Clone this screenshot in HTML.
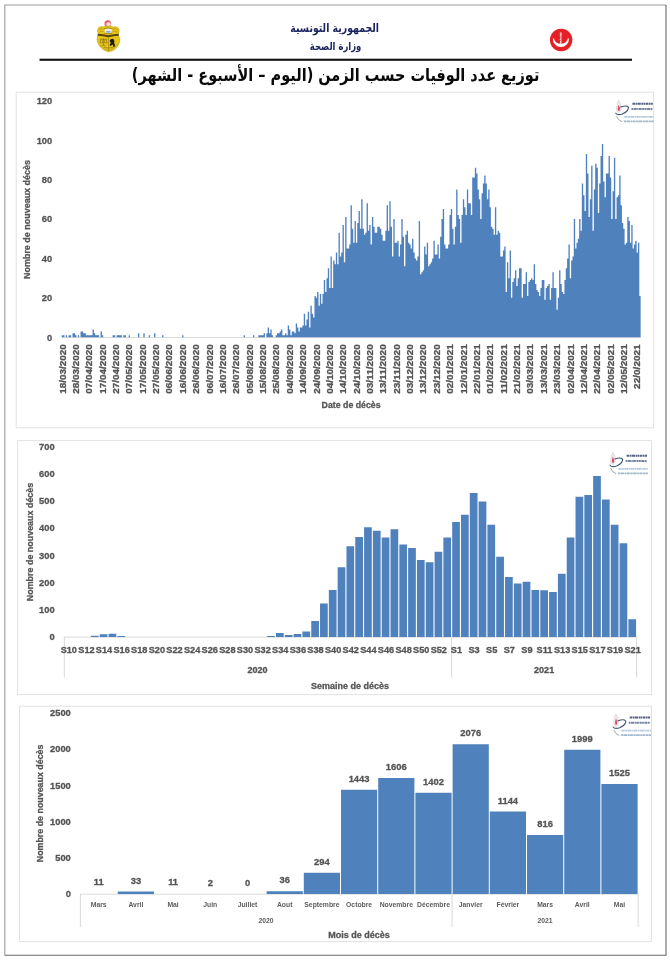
<!DOCTYPE html>
<html lang="fr">
<head>
<meta charset="utf-8">
<title>Répartition des décès selon le temps</title>
<style>
html,body{margin:0;padding:0;background:#fff}
body{width:670px;height:960px;overflow:hidden;font-family:"Liberation Sans",sans-serif}
svg{display:block;will-change:transform}
text{font-family:"Liberation Sans",sans-serif;font-weight:700;fill:#555;stroke:#555;stroke-width:.3px;stroke-linejoin:round}
text.s{stroke:none;fill:#5c5c5c}
text.ar{font-family:"DejaVu Sans",sans-serif;font-weight:700;stroke:none}
</style>
</head>
<body>
<svg width="670" height="960" viewBox="0 0 670 960">
<rect x="0" y="0" width="670" height="960" fill="#fff"/>
<g fill="none" stroke-width="1.1">
<path d="M4.8 955.3V5H666" stroke="#9c9c9c"/>
<path d="M4.8 955.3H666V5" stroke="#6a6a6a"/>
</g>
<g transform="translate(85 10) scale(0.07463)">
<circle cx="305" cy="185" r="46" fill="#ec7a80"/>
<circle cx="316" cy="190" r="27" fill="#fbdcdd"/>
<path d="M268 170Q290 140 330 150" stroke="#e04b55" stroke-width="12" fill="none"/>
<path d="M175 245Q200 212 250 226L285 214Q310 226 335 214L380 228Q430 212 455 250Q466 290 446 320L451 346Q476 380 463 432Q445 502 380 541Q330 566 298 556Q214 530 174 450Q149 390 169 346L178 320Q157 285 175 245Z" fill="#e6c51b" stroke="#b89d17" stroke-width="7"/>
<path d="M262 262Q310 240 360 262L352 305Q310 318 268 305Z" fill="#eef1f6"/>
<path d="M280 285Q310 270 345 285L340 300Q310 308 284 300Z" fill="#8fa3c4"/>
<path d="M172 318Q240 322 312 338Q385 322 452 318L452 344Q385 348 312 364Q240 348 172 344Z" fill="#5a4312"/>
<path d="M316 362V545" stroke="#9b7f12" stroke-width="9" fill="none"/>
<path d="M200 392H296M212 392L200 440H238L226 392M270 392L258 440H296L284 392M248 380V470M222 476H276" stroke="#8d7410" stroke-width="9" fill="none"/>
<path d="M345 392Q372 378 388 398Q402 420 388 440Q410 470 398 498L378 496Q384 472 366 462Q352 480 338 482L332 462Q346 452 346 436Q330 430 332 410Z" fill="#1d1a10"/>
<path d="M250 500Q312 520 376 500" stroke="#9b7f12" stroke-width="10" fill="none"/>
<path d="M196 462Q246 524 312 544Q378 524 430 462" stroke="#b2961a" stroke-width="8" fill="none"/>
<path d="M252 250Q310 230 368 250M258 312Q310 326 362 312" stroke="#7d6912" stroke-width="8" fill="none"/>
<path d="M190 262Q215 246 245 256M372 256Q405 246 438 266M196 292Q220 282 250 290M370 290Q405 282 434 294" stroke="#b3961a" stroke-width="9" fill="none"/>
</g>
<g transform="translate(540 18) scale(0.06566)">
<circle cx="322" cy="335" r="171" fill="#e41f26"/>
<path d="M195.2 312A123 123 0 1 0 440.8 312L424.1 312A110 110 0 0 1 211.9 312Z" fill="#fff"/>
<path d="M316 232V398" stroke="#fbd2d3" stroke-width="22" fill="none"/>
<ellipse cx="316" cy="238" rx="17" ry="20" fill="#f6a9ab"/>
<path d="M288 272Q345 286 300 318Q282 338 340 352" stroke="#ee6a6e" stroke-width="12" fill="none"/>
</g>
<text class="ar" x="334.7" y="31.9" font-size="11.5" text-anchor="middle" direction="rtl" textLength="88.7" lengthAdjust="spacingAndGlyphs" style="fill:#1b2460">الجمهورية التونسية</text>
<text class="ar" x="335.6" y="50.3" font-size="11" text-anchor="middle" direction="rtl" textLength="51.6" lengthAdjust="spacingAndGlyphs" style="fill:#1b2460">وزارة الصحة</text>
<rect x="39.5" y="58.7" width="592.5" height="2.1" fill="#111"/>
<g>
<text class="ar" x="335.6" y="81" font-size="17.5" text-anchor="middle" direction="rtl" textLength="407.5" lengthAdjust="spacingAndGlyphs" style="fill:#0a0a0a">توزيع عدد الوفيات حسب الزمن (اليوم – الأسبوع - الشهر)</text>
</g>
<rect x="16.2" y="92.2" width="637.4" height="335.6" fill="#fff" stroke="#e2e2e2" stroke-width="1"/>
<g transform="translate(615.2 99.6)">
<path d="M3.4 0.6Q6.4 4.5 5.8 9.6Q5.2 13 3.4 13Q1 12.6 1.3 8.6Q1.6 4.2 3.4 0.6Z" fill="#f6e9ec" stroke="#c9ccd3" stroke-width="0.6"/>
<path d="M3.5 5.2Q5.1 8.4 4.5 10.6Q3.6 12 2.7 10.6Q2.1 8.4 3.5 5.2Z" fill="#e0405a"/>
<path d="M5.5 7.4Q11.5 5.2 13.2 7.6Q13.6 11.4 7.2 14.4Q2.2 16 0.6 13.6" fill="none" stroke="#3f5873" stroke-width="1.15" stroke-linecap="round"/>
<path d="M1.4 16.8Q2.4 20.6 6.4 22" fill="none" stroke="#7d93aa" stroke-width="0.8" stroke-linecap="round"/>
<path d="M17.2 4.1H37.6" fill="none" stroke="#2b3b63" stroke-width="2.1" stroke-dasharray="2.6 0.5 1.5 0.4 3.4 0.6 2 0.4 1.2 0.5" opacity="0.8"/>
<path d="M16.2 9.4H37.6" fill="none" stroke="#3a4f78" stroke-width="2" stroke-dasharray="1.8 0.5 3 0.5 1.4 0.4 2.6 0.6 2.2 0.4" opacity="0.7"/>
<path d="M9 17.2H38.5" fill="none" stroke="#9ab8d6" stroke-width="1.7" stroke-dasharray="3.2 0.5 2 0.4 4 0.5 1.4 0.4" opacity="0.75"/>
<path d="M8.5 21.7H38.5" fill="none" stroke="#8aa6c2" stroke-width="1.7" stroke-dasharray="2.4 0.4 3.6 0.5 1.8 0.4 2.8 0.5" opacity="0.8"/>
</g>
<path d="M61.8 337.6H640.63" fill="none" stroke="#d9d9d9" stroke-width="1"/>
<path d="M61.8 337.3V335.33H63.14V335.33H64.47V337.3H65.81V335.33H67.15V337.3H68.48V335.33H69.82V335.33H71.16V337.3H72.49V333.36H73.83V333.36H75.17V335.33H76.5V337.3H77.84V335.33H79.18V337.3H80.52V331.38H81.85V331.38H83.19V333.36H84.53V333.36H85.86V335.33H87.2V335.33H88.54V335.33H89.87V335.33H91.21V335.33H92.55V329.41H93.88V333.36H95.22V335.33H96.56V335.33H97.89V335.33H99.23V337.3H100.57V331.38H101.9V335.33H103.24V337.3H104.58V337.3H105.91V337.3H107.25V337.3H108.59V337.3H109.92V337.3H111.26V337.3H112.6V335.33H113.94V335.33H115.27V337.3H116.61V335.33H117.95V335.33H119.28V335.33H120.62V335.33H121.96V337.3H123.29V335.33H124.63V335.33H125.97V337.3H127.3V337.3H128.64V335.33H129.98V337.3H131.31V337.3H132.65V337.3H133.99V337.3H135.32V337.3H136.66V337.3H138V333.36H139.33V337.3H140.67V337.3H142.01V337.3H143.34V333.36H144.68V337.3H146.02V337.3H147.36V337.3H148.69V335.33H150.03V337.3H151.37V337.3H152.7V337.3H154.04V333.36H155.38V337.3H156.71V337.3H158.05V337.3H159.39V337.3H160.72V337.3H162.06V335.33H163.4V337.3H164.73V337.3H166.07V337.3H167.41V337.3H168.74V337.3H170.08V337.3H171.42V337.3H172.75V337.3H174.09V337.3H175.43V337.3H176.76V337.3H178.1V337.3H179.44V337.3H180.78V337.3H182.11V335.33H183.45V337.3H184.79V337.3H186.12V337.3H187.46V337.3H188.8V337.3H190.13V337.3H191.47V337.3H192.81V337.3H194.14V337.3H195.48V337.3H196.82V337.3H198.15V337.3H199.49V337.3H200.83V337.3H202.16V337.3H203.5V337.3H204.84V337.3H206.17V337.3H207.51V337.3H208.85V337.3H210.18V337.3H211.52V337.3H212.86V337.3H214.2V337.3H215.53V337.3H216.87V337.3H218.21V337.3H219.54V337.3H220.88V337.3H222.22V337.3H223.55V337.3H224.89V337.3H226.23V337.3H227.56V337.3H228.9V337.3H230.24V337.3H231.57V337.3H232.91V337.3H234.25V337.3H235.58V337.3H236.92V337.3H238.26V337.3H239.59V337.3H240.93V337.3H242.27V337.3H243.6V335.33H244.94V337.3H246.28V337.3H247.62V337.3H248.95V337.3H250.29V337.3H251.63V337.3H252.96V335.33H254.3V337.3H255.64V337.3H256.97V337.3H258.31V335.33H259.65V335.33H260.98V335.33H262.32V335.33H263.66V333.36H264.99V337.3H266.33V333.36H267.67V327.44H269V333.36H270.34V329.41H271.68V335.33H273.01V337.3H274.35V337.3H275.69V335.33H277.02V333.36H278.36V333.36H279.7V331.38H281.04V329.41H282.37V335.33H283.71V335.33H285.05V333.36H286.38V335.33H287.72V325.47H289.06V329.41H290.39V335.33H291.73V331.38H293.07V331.38H294.4V333.36H295.74V323.5H297.08V327.44H298.41V331.38H299.75V327.44H301.09V327.44H302.42V325.47H303.76V313.64H305.1V325.47H306.43V319.55H307.77V311.66H309.11V327.44H310.44V305.75H311.78V313.64H313.12V317.58H314.46V295.89H315.79V297.86H317.13V291.94H318.47V305.75H319.8V293.92H321.14V303.78H322.48V293.92H323.81V280.11H325.15V291.94H326.49V278.14H327.82V268.28H329.16V288H330.5V256.45H331.83V288H333.17V260.39H334.51V264.34H335.84V252.5H337.18V264.34H338.52V232.78H339.85V256.45H341.19V252.5H342.53V224.9H343.86V262.36H345.2V217.01H346.54V248.56H347.88V248.56H349.21V244.62H350.55V205.18H351.89V228.84H353.22V242.64H354.56V220.95H355.9V242.64H357.23V222.92H358.57V211.09H359.91V228.84H361.24V199.26H362.58V228.84H363.92V234.76H365.25V232.78H366.59V203.2H367.93V230.81H369.26V224.9H370.6V244.62H371.94V217.01H373.27V226.87H374.61V232.78H375.95V232.78H377.28V226.87H378.62V226.87H379.96V228.84H381.3V234.76H382.63V240.67H383.97V240.67H385.31V230.81H386.64V205.18H387.98V230.81H389.32V201.23H390.65V226.87H391.99V256.45H393.33V218.98H394.66V242.64H396V242.64H397.34V240.67H398.67V256.45H400.01V244.62H401.35V218.98H402.68V236.73H404.02V266.31H405.36V234.76H406.69V230.81H408.03V242.64H409.37V244.62H410.7V248.56H412.04V238.7H413.38V252.5H414.72V258.42H416.05V260.39H417.39V256.45H418.73V220.95H420.06V274.2H421.4V272.22H422.74V270.25H424.07V246.59H425.41V254.48H426.75V242.64H428.08V266.31H429.42V264.34H430.76V262.36H432.09V258.42H433.43V240.67H434.77V254.48H436.1V254.48H437.44V244.62H438.78V258.42H440.11V236.73H441.45V218.98H442.79V209.12H444.12V244.62H445.46V248.56H446.8V248.56H448.14V244.62H449.47V215.04H450.81V209.12H452.15V228.84H453.48V244.62H454.82V226.87H456.16V189.4H457.49V215.04H458.83V218.98H460.17V242.64H461.5V215.04H462.84V199.26H464.18V207.15H465.51V215.04H466.85V189.4H468.19V203.2H469.52V203.2H470.86V215.04H472.2V177.57H473.53V177.57H474.87V167.71H476.21V173.62H477.54V189.4H478.88V199.26H480.22V218.98H481.56V193.34H482.89V183.48H484.23V175.6H485.57V183.48H486.9V199.26H488.24V189.4H489.58V207.15H490.91V226.87H492.25V228.84H493.59V234.76H494.92V207.15H496.26V234.76H497.6V230.81H498.93V232.78H500.27V256.45H501.61V256.45H502.94V250.53H504.28V246.59H505.62V291.94H506.95V262.36H508.29V278.14H509.63V250.53H510.96V297.86H512.3V282.08H513.64V278.14H514.98V270.25H516.31V286.03H517.65V278.14H518.99V268.28H520.32V268.28H521.66V297.86H523V284.06H524.33V284.06H525.67V272.22H527.01V295.89H528.34V282.08H529.68V280.11H531.02V278.14H532.35V280.11H533.69V264.34H535.03V284.06H536.36V289.97H537.7V291.94H539.04V295.89H540.37V288H541.71V280.11H543.05V280.11H544.38V299.83H545.72V288H547.06V286.03H548.4V284.06H549.73V299.83H551.07V288H552.41V272.22H553.74V288H555.08V288H556.42V309.69H557.75V297.86H559.09V270.25H560.43V284.06H561.76V291.94H563.1V293.92H564.44V280.11H565.77V268.28H567.11V258.42H568.45V244.62H569.78V278.14H571.12V260.39H572.46V256.45H573.79V218.98H575.13V248.56H576.47V242.64H577.8V238.7H579.14V218.98H580.48V230.81H581.82V183.48H583.15V195.32H584.49V211.09H585.83V153.9H587.16V173.62H588.5V217.01H589.84V199.26H591.17V165.74H592.51V230.81H593.85V189.4H595.18V163.76H596.52V167.71H597.86V213.06H599.19V183.48H600.53V155.88H601.87V144.04H603.2V181.51H604.54V197.29H605.88V173.62H607.21V173.62H608.55V155.88H609.89V177.57H611.22V218.98H612.56V191.37H613.9V157.85H615.24V218.98H616.57V197.29H617.91V195.32H619.25V175.6H620.58V205.18H621.92V222.92H623.26V228.84H624.59V244.62H625.93V242.64H627.27V217.01H628.6V220.95H629.94V242.64H631.28V224.9H632.61V248.56H633.95V244.62H635.29V240.67H636.62V252.5H637.96V242.64H639.3V295.89H640.63V337.3Z" fill="#4f81bd"/>
<text x="52.2" y="340.55" font-size="9.3" text-anchor="end">0</text>
<text x="52.2" y="301.15" font-size="9.3" text-anchor="end">20</text>
<text x="52.2" y="261.75" font-size="9.3" text-anchor="end">40</text>
<text x="52.2" y="222.35" font-size="9.3" text-anchor="end">60</text>
<text x="52.2" y="182.95" font-size="9.3" text-anchor="end">80</text>
<text x="52.2" y="143.55" font-size="9.3" text-anchor="end">100</text>
<text x="52.2" y="104.15" font-size="9.3" text-anchor="end">120</text>
<text transform="translate(30.34 219.5) rotate(-90)" font-size="9" text-anchor="middle" textLength="119" lengthAdjust="spacingAndGlyphs">Nombre de nouveaux décès</text>
<text transform="translate(65.53 344.3) rotate(-90)" font-size="8.7" text-anchor="end" textLength="49.5" lengthAdjust="spacingAndGlyphs">18/03/2020</text>
<text transform="translate(78.9 344.3) rotate(-90)" font-size="8.7" text-anchor="end" textLength="49.5" lengthAdjust="spacingAndGlyphs">28/03/2020</text>
<text transform="translate(92.27 344.3) rotate(-90)" font-size="8.7" text-anchor="end" textLength="49.5" lengthAdjust="spacingAndGlyphs">07/04/2020</text>
<text transform="translate(105.64 344.3) rotate(-90)" font-size="8.7" text-anchor="end" textLength="49.5" lengthAdjust="spacingAndGlyphs">17/04/2020</text>
<text transform="translate(119 344.3) rotate(-90)" font-size="8.7" text-anchor="end" textLength="49.5" lengthAdjust="spacingAndGlyphs">27/04/2020</text>
<text transform="translate(132.37 344.3) rotate(-90)" font-size="8.7" text-anchor="end" textLength="49.5" lengthAdjust="spacingAndGlyphs">07/05/2020</text>
<text transform="translate(145.74 344.3) rotate(-90)" font-size="8.7" text-anchor="end" textLength="49.5" lengthAdjust="spacingAndGlyphs">17/05/2020</text>
<text transform="translate(159.11 344.3) rotate(-90)" font-size="8.7" text-anchor="end" textLength="49.5" lengthAdjust="spacingAndGlyphs">27/05/2020</text>
<text transform="translate(172.48 344.3) rotate(-90)" font-size="8.7" text-anchor="end" textLength="49.5" lengthAdjust="spacingAndGlyphs">06/06/2020</text>
<text transform="translate(185.84 344.3) rotate(-90)" font-size="8.7" text-anchor="end" textLength="49.5" lengthAdjust="spacingAndGlyphs">16/06/2020</text>
<text transform="translate(199.21 344.3) rotate(-90)" font-size="8.7" text-anchor="end" textLength="49.5" lengthAdjust="spacingAndGlyphs">26/06/2020</text>
<text transform="translate(212.58 344.3) rotate(-90)" font-size="8.7" text-anchor="end" textLength="49.5" lengthAdjust="spacingAndGlyphs">06/07/2020</text>
<text transform="translate(225.95 344.3) rotate(-90)" font-size="8.7" text-anchor="end" textLength="49.5" lengthAdjust="spacingAndGlyphs">16/07/2020</text>
<text transform="translate(239.32 344.3) rotate(-90)" font-size="8.7" text-anchor="end" textLength="49.5" lengthAdjust="spacingAndGlyphs">26/07/2020</text>
<text transform="translate(252.68 344.3) rotate(-90)" font-size="8.7" text-anchor="end" textLength="49.5" lengthAdjust="spacingAndGlyphs">05/08/2020</text>
<text transform="translate(266.05 344.3) rotate(-90)" font-size="8.7" text-anchor="end" textLength="49.5" lengthAdjust="spacingAndGlyphs">15/08/2020</text>
<text transform="translate(279.42 344.3) rotate(-90)" font-size="8.7" text-anchor="end" textLength="49.5" lengthAdjust="spacingAndGlyphs">25/08/2020</text>
<text transform="translate(292.79 344.3) rotate(-90)" font-size="8.7" text-anchor="end" textLength="49.5" lengthAdjust="spacingAndGlyphs">04/09/2020</text>
<text transform="translate(306.16 344.3) rotate(-90)" font-size="8.7" text-anchor="end" textLength="49.5" lengthAdjust="spacingAndGlyphs">14/09/2020</text>
<text transform="translate(319.52 344.3) rotate(-90)" font-size="8.7" text-anchor="end" textLength="49.5" lengthAdjust="spacingAndGlyphs">24/09/2020</text>
<text transform="translate(332.89 344.3) rotate(-90)" font-size="8.7" text-anchor="end" textLength="49.5" lengthAdjust="spacingAndGlyphs">04/10/2020</text>
<text transform="translate(346.26 344.3) rotate(-90)" font-size="8.7" text-anchor="end" textLength="49.5" lengthAdjust="spacingAndGlyphs">14/10/2020</text>
<text transform="translate(359.63 344.3) rotate(-90)" font-size="8.7" text-anchor="end" textLength="49.5" lengthAdjust="spacingAndGlyphs">24/10/2020</text>
<text transform="translate(373 344.3) rotate(-90)" font-size="8.7" text-anchor="end" textLength="49.5" lengthAdjust="spacingAndGlyphs">03/11/2020</text>
<text transform="translate(386.36 344.3) rotate(-90)" font-size="8.7" text-anchor="end" textLength="49.5" lengthAdjust="spacingAndGlyphs">13/11/2020</text>
<text transform="translate(399.73 344.3) rotate(-90)" font-size="8.7" text-anchor="end" textLength="49.5" lengthAdjust="spacingAndGlyphs">23/11/2020</text>
<text transform="translate(413.1 344.3) rotate(-90)" font-size="8.7" text-anchor="end" textLength="49.5" lengthAdjust="spacingAndGlyphs">03/12/2020</text>
<text transform="translate(426.47 344.3) rotate(-90)" font-size="8.7" text-anchor="end" textLength="49.5" lengthAdjust="spacingAndGlyphs">13/12/2020</text>
<text transform="translate(439.84 344.3) rotate(-90)" font-size="8.7" text-anchor="end" textLength="49.5" lengthAdjust="spacingAndGlyphs">23/12/2020</text>
<text transform="translate(453.2 344.3) rotate(-90)" font-size="8.7" text-anchor="end" textLength="49.5" lengthAdjust="spacingAndGlyphs">02/01/2021</text>
<text transform="translate(466.57 344.3) rotate(-90)" font-size="8.7" text-anchor="end" textLength="49.5" lengthAdjust="spacingAndGlyphs">12/01/2021</text>
<text transform="translate(479.94 344.3) rotate(-90)" font-size="8.7" text-anchor="end" textLength="49.5" lengthAdjust="spacingAndGlyphs">22/01/2021</text>
<text transform="translate(493.31 344.3) rotate(-90)" font-size="8.7" text-anchor="end" textLength="49.5" lengthAdjust="spacingAndGlyphs">01/02/2021</text>
<text transform="translate(506.68 344.3) rotate(-90)" font-size="8.7" text-anchor="end" textLength="49.5" lengthAdjust="spacingAndGlyphs">11/02/2021</text>
<text transform="translate(520.04 344.3) rotate(-90)" font-size="8.7" text-anchor="end" textLength="49.5" lengthAdjust="spacingAndGlyphs">21/02/2021</text>
<text transform="translate(533.41 344.3) rotate(-90)" font-size="8.7" text-anchor="end" textLength="49.5" lengthAdjust="spacingAndGlyphs">03/03/2021</text>
<text transform="translate(546.78 344.3) rotate(-90)" font-size="8.7" text-anchor="end" textLength="49.5" lengthAdjust="spacingAndGlyphs">13/03/2021</text>
<text transform="translate(560.15 344.3) rotate(-90)" font-size="8.7" text-anchor="end" textLength="49.5" lengthAdjust="spacingAndGlyphs">23/03/2021</text>
<text transform="translate(573.52 344.3) rotate(-90)" font-size="8.7" text-anchor="end" textLength="49.5" lengthAdjust="spacingAndGlyphs">02/04/2021</text>
<text transform="translate(586.88 344.3) rotate(-90)" font-size="8.7" text-anchor="end" textLength="49.5" lengthAdjust="spacingAndGlyphs">12/04/2021</text>
<text transform="translate(600.25 344.3) rotate(-90)" font-size="8.7" text-anchor="end" textLength="49.5" lengthAdjust="spacingAndGlyphs">22/04/2021</text>
<text transform="translate(613.62 344.3) rotate(-90)" font-size="8.7" text-anchor="end" textLength="49.5" lengthAdjust="spacingAndGlyphs">02/05/2021</text>
<text transform="translate(626.99 344.3) rotate(-90)" font-size="8.7" text-anchor="end" textLength="49.5" lengthAdjust="spacingAndGlyphs">12/05/2021</text>
<text transform="translate(640.36 344.3) rotate(-90)" font-size="8.7" text-anchor="end" textLength="44.6" lengthAdjust="spacingAndGlyphs">22/0/2021</text>
<text x="351.1" y="408.04" font-size="9" text-anchor="middle" textLength="59" lengthAdjust="spacingAndGlyphs">Date de décès</text>
<rect x="17.6" y="440.6" width="633.9" height="254" fill="#fff" stroke="#e2e2e2" stroke-width="1"/>
<g transform="translate(609.4 451.6)">
<path d="M3.4 0.6Q6.4 4.5 5.8 9.6Q5.2 13 3.4 13Q1 12.6 1.3 8.6Q1.6 4.2 3.4 0.6Z" fill="#f6e9ec" stroke="#c9ccd3" stroke-width="0.6"/>
<path d="M3.5 5.2Q5.1 8.4 4.5 10.6Q3.6 12 2.7 10.6Q2.1 8.4 3.5 5.2Z" fill="#e0405a"/>
<path d="M5.5 7.4Q11.5 5.2 13.2 7.6Q13.6 11.4 7.2 14.4Q2.2 16 0.6 13.6" fill="none" stroke="#3f5873" stroke-width="1.15" stroke-linecap="round"/>
<path d="M1.4 16.8Q2.4 20.6 6.4 22" fill="none" stroke="#7d93aa" stroke-width="0.8" stroke-linecap="round"/>
<path d="M17.2 4.1H37.6" fill="none" stroke="#2b3b63" stroke-width="2.1" stroke-dasharray="2.6 0.5 1.5 0.4 3.4 0.6 2 0.4 1.2 0.5" opacity="0.8"/>
<path d="M16.2 9.4H37.6" fill="none" stroke="#3a4f78" stroke-width="2" stroke-dasharray="1.8 0.5 3 0.5 1.4 0.4 2.6 0.6 2.2 0.4" opacity="0.7"/>
<path d="M9 17.2H38.5" fill="none" stroke="#9ab8d6" stroke-width="1.7" stroke-dasharray="3.2 0.5 2 0.4 4 0.5 1.4 0.4" opacity="0.75"/>
<path d="M8.5 21.7H38.5" fill="none" stroke="#8aa6c2" stroke-width="1.7" stroke-dasharray="2.4 0.4 3.6 0.5 1.8 0.4 2.8 0.5" opacity="0.8"/>
</g>
<path d="M64 637.2H636.65" fill="none" stroke="#d9d9d9" stroke-width="1"/>
<path d="M64.3 636.9V677.5M451.64 636.9V677.5M636.65 636.9V677.5" fill="none" stroke="#d9d9d9" stroke-width="1"/>
<path d="M90.98 636.9h7.71v-1.09h-7.71zM99.79 636.9h7.71v-2.71h-7.71zM108.6 636.9h7.71v-3.26h-7.71zM117.41 636.9h7.71v-0.81h-7.71zM267.18 636.9h7.71v-0.81h-7.71zM275.99 636.9h7.71v-3.8h-7.71zM284.8 636.9h7.71v-1.9h-7.71zM293.61 636.9h7.71v-2.99h-7.71zM302.42 636.9h7.71v-5.43h-7.71zM311.23 636.9h7.71v-16.01h-7.71zM320.04 636.9h7.71v-33.38h-7.71zM328.85 636.9h7.71v-46.95h-7.71zM337.66 636.9h7.71v-69.75h-7.71zM346.47 636.9h7.71v-90.65h-7.71zM355.28 636.9h7.71v-99.88h-7.71zM364.09 636.9h7.71v-109.65h-7.71zM372.9 636.9h7.71v-106.12h-7.71zM381.71 636.9h7.71v-99.33h-7.71zM390.52 636.9h7.71v-107.75h-7.71zM399.33 636.9h7.71v-92.28h-7.71zM408.14 636.9h7.71v-89.02h-7.71zM416.95 636.9h7.71v-76.81h-7.71zM425.76 636.9h7.71v-74.63h-7.71zM434.57 636.9h7.71v-85.22h-7.71zM443.38 636.9h7.71v-99.33h-7.71zM452.19 636.9h7.71v-114.8h-7.71zM461 636.9h7.71v-122.13h-7.71zM469.81 636.9h7.71v-143.84h-7.71zM478.62 636.9h7.71v-135.43h-7.71zM487.43 636.9h7.71v-112.09h-7.71zM496.24 636.9h7.71v-80.06h-7.71zM505.05 636.9h7.71v-59.98h-7.71zM513.86 636.9h7.71v-53.47h-7.71zM522.67 636.9h7.71v-55.09h-7.71zM531.48 636.9h7.71v-46.95h-7.71zM540.29 636.9h7.71v-46.68h-7.71zM549.1 636.9h7.71v-44.78h-7.71zM557.91 636.9h7.71v-63.24h-7.71zM566.72 636.9h7.71v-99.33h-7.71zM575.53 636.9h7.71v-140.04h-7.71zM584.34 636.9h7.71v-141.94h-7.71zM593.15 636.9h7.71v-160.94h-7.71zM601.96 636.9h7.71v-137.33h-7.71zM610.77 636.9h7.71v-112.09h-7.71zM619.58 636.9h7.71v-93.63h-7.71zM628.39 636.9h7.71v-17.64h-7.71z" fill="#4f81bd"/>
<text x="54.6" y="639.95" font-size="9.3" text-anchor="end">0</text>
<text x="54.6" y="612.81" font-size="9.3" text-anchor="end">100</text>
<text x="54.6" y="585.67" font-size="9.3" text-anchor="end">200</text>
<text x="54.6" y="558.53" font-size="9.3" text-anchor="end">300</text>
<text x="54.6" y="531.39" font-size="9.3" text-anchor="end">400</text>
<text x="54.6" y="504.25" font-size="9.3" text-anchor="end">500</text>
<text x="54.6" y="477.11" font-size="9.3" text-anchor="end">600</text>
<text x="54.6" y="449.97" font-size="9.3" text-anchor="end">700</text>
<text transform="translate(33.24 542) rotate(-90)" font-size="9" text-anchor="middle" textLength="118.5" lengthAdjust="spacingAndGlyphs">Nombre de nouveaux décès</text>
<text x="68.81" y="652.91" font-size="9.2" text-anchor="middle">S10</text>
<text x="86.43" y="652.91" font-size="9.2" text-anchor="middle">S12</text>
<text x="104.05" y="652.91" font-size="9.2" text-anchor="middle">S14</text>
<text x="121.67" y="652.91" font-size="9.2" text-anchor="middle">S16</text>
<text x="139.28" y="652.91" font-size="9.2" text-anchor="middle">S18</text>
<text x="156.91" y="652.91" font-size="9.2" text-anchor="middle">S20</text>
<text x="174.53" y="652.91" font-size="9.2" text-anchor="middle">S22</text>
<text x="192.15" y="652.91" font-size="9.2" text-anchor="middle">S24</text>
<text x="209.77" y="652.91" font-size="9.2" text-anchor="middle">S26</text>
<text x="227.39" y="652.91" font-size="9.2" text-anchor="middle">S28</text>
<text x="245.01" y="652.91" font-size="9.2" text-anchor="middle">S30</text>
<text x="262.62" y="652.91" font-size="9.2" text-anchor="middle">S32</text>
<text x="280.25" y="652.91" font-size="9.2" text-anchor="middle">S34</text>
<text x="297.87" y="652.91" font-size="9.2" text-anchor="middle">S36</text>
<text x="315.49" y="652.91" font-size="9.2" text-anchor="middle">S38</text>
<text x="333.11" y="652.91" font-size="9.2" text-anchor="middle">S40</text>
<text x="350.72" y="652.91" font-size="9.2" text-anchor="middle">S42</text>
<text x="368.34" y="652.91" font-size="9.2" text-anchor="middle">S44</text>
<text x="385.96" y="652.91" font-size="9.2" text-anchor="middle">S46</text>
<text x="403.58" y="652.91" font-size="9.2" text-anchor="middle">S48</text>
<text x="421.2" y="652.91" font-size="9.2" text-anchor="middle">S50</text>
<text x="438.82" y="652.91" font-size="9.2" text-anchor="middle">S52</text>
<text x="456.44" y="652.91" font-size="9.2" text-anchor="middle">S1</text>
<text x="474.06" y="652.91" font-size="9.2" text-anchor="middle">S3</text>
<text x="491.69" y="652.91" font-size="9.2" text-anchor="middle">S5</text>
<text x="509.31" y="652.91" font-size="9.2" text-anchor="middle">S7</text>
<text x="526.93" y="652.91" font-size="9.2" text-anchor="middle">S9</text>
<text x="544.54" y="652.91" font-size="9.2" text-anchor="middle">S11</text>
<text x="562.17" y="652.91" font-size="9.2" text-anchor="middle">S13</text>
<text x="579.78" y="652.91" font-size="9.2" text-anchor="middle">S15</text>
<text x="597.4" y="652.91" font-size="9.2" text-anchor="middle">S17</text>
<text x="615.02" y="652.91" font-size="9.2" text-anchor="middle">S19</text>
<text x="632.64" y="652.91" font-size="9.2" text-anchor="middle">S21</text>
<text x="257.6" y="672.54" font-size="9" text-anchor="middle">2020</text>
<text x="544.14" y="672.54" font-size="9" text-anchor="middle">2021</text>
<text x="350" y="689.04" font-size="9" text-anchor="middle">Semaine de décès</text>
<rect x="19.5" y="706.2" width="632" height="235.4" fill="#fff" stroke="#e2e2e2" stroke-width="1"/>
<g transform="translate(612.5 713.4)">
<path d="M3.4 0.6Q6.4 4.5 5.8 9.6Q5.2 13 3.4 13Q1 12.6 1.3 8.6Q1.6 4.2 3.4 0.6Z" fill="#f6e9ec" stroke="#c9ccd3" stroke-width="0.6"/>
<path d="M3.5 5.2Q5.1 8.4 4.5 10.6Q3.6 12 2.7 10.6Q2.1 8.4 3.5 5.2Z" fill="#e0405a"/>
<path d="M5.5 7.4Q11.5 5.2 13.2 7.6Q13.6 11.4 7.2 14.4Q2.2 16 0.6 13.6" fill="none" stroke="#3f5873" stroke-width="1.15" stroke-linecap="round"/>
<path d="M1.4 16.8Q2.4 20.6 6.4 22" fill="none" stroke="#7d93aa" stroke-width="0.8" stroke-linecap="round"/>
<path d="M17.2 4.1H37.6" fill="none" stroke="#2b3b63" stroke-width="2.1" stroke-dasharray="2.6 0.5 1.5 0.4 3.4 0.6 2 0.4 1.2 0.5" opacity="0.8"/>
<path d="M16.2 9.4H37.6" fill="none" stroke="#3a4f78" stroke-width="2" stroke-dasharray="1.8 0.5 3 0.5 1.4 0.4 2.6 0.6 2.2 0.4" opacity="0.7"/>
<path d="M9 17.2H38.5" fill="none" stroke="#9ab8d6" stroke-width="1.7" stroke-dasharray="3.2 0.5 2 0.4 4 0.5 1.4 0.4" opacity="0.75"/>
<path d="M8.5 21.7H38.5" fill="none" stroke="#8aa6c2" stroke-width="1.7" stroke-dasharray="2.4 0.4 3.6 0.5 1.8 0.4 2.8 0.5" opacity="0.8"/>
</g>
<path d="M80.1 894.2H638.1" fill="none" stroke="#d9d9d9" stroke-width="1"/>
<path d="M80.4 893.9V927M452.1 893.9V927M638.1 893.9V927" fill="none" stroke="#d9d9d9" stroke-width="1"/>
<path d="M117.8 893.9h36.2v-2.38h-36.2zM266.6 893.9h36.2v-2.6h-36.2zM303.8 893.9h36.2v-21.2h-36.2zM341 893.9h36.2v-104.04h-36.2zM378.2 893.9h36.2v-115.79h-36.2zM415.4 893.9h36.2v-101.08h-36.2zM452.6 893.9h36.2v-149.68h-36.2zM489.8 893.9h36.2v-82.48h-36.2zM527 893.9h36.2v-58.83h-36.2zM564.2 893.9h36.2v-144.13h-36.2zM601.4 893.9h36.2v-109.95h-36.2z" fill="#4f81bd"/>
<text x="70.8" y="897.35" font-size="9.3" text-anchor="end">0</text>
<text x="70.8" y="861.13" font-size="9.3" text-anchor="end">500</text>
<text x="70.8" y="824.91" font-size="9.3" text-anchor="end">1000</text>
<text x="70.8" y="788.69" font-size="9.3" text-anchor="end">1500</text>
<text x="70.8" y="752.47" font-size="9.3" text-anchor="end">2000</text>
<text x="70.8" y="716.25" font-size="9.3" text-anchor="end">2500</text>
<text transform="translate(43.24 803.4) rotate(-90)" font-size="9" text-anchor="middle" textLength="117.7" lengthAdjust="spacingAndGlyphs">Nombre de nouveaux décès</text>
<text x="98.7" y="907.15" font-size="6.8" text-anchor="middle" class="s">Mars</text>
<text x="98.7" y="885.29" font-size="9.4" text-anchor="middle">11</text>
<text x="135.9" y="907.15" font-size="6.8" text-anchor="middle" class="s">Avril</text>
<text x="135.9" y="883.7" font-size="9.4" text-anchor="middle">33</text>
<text x="173.1" y="907.15" font-size="6.8" text-anchor="middle" class="s">Mai</text>
<text x="173.1" y="885.29" font-size="9.4" text-anchor="middle">11</text>
<text x="210.3" y="907.15" font-size="6.8" text-anchor="middle" class="s">Juin</text>
<text x="210.3" y="885.94" font-size="9.4" text-anchor="middle">2</text>
<text x="247.5" y="907.15" font-size="6.8" text-anchor="middle" class="s">Juillet</text>
<text x="247.5" y="886.08" font-size="9.4" text-anchor="middle">0</text>
<text x="284.7" y="907.15" font-size="6.8" text-anchor="middle" class="s">Aout</text>
<text x="284.7" y="883.49" font-size="9.4" text-anchor="middle">36</text>
<text x="321.9" y="907.15" font-size="6.8" text-anchor="middle" class="s">Septembre</text>
<text x="321.9" y="864.89" font-size="9.4" text-anchor="middle">294</text>
<text x="359.1" y="907.15" font-size="6.8" text-anchor="middle" class="s">Octobre</text>
<text x="359.1" y="782.04" font-size="9.4" text-anchor="middle">1443</text>
<text x="396.3" y="907.15" font-size="6.8" text-anchor="middle" class="s">Novembre</text>
<text x="396.3" y="770.29" font-size="9.4" text-anchor="middle">1606</text>
<text x="433.5" y="907.15" font-size="6.8" text-anchor="middle" class="s">Décembre</text>
<text x="433.5" y="785" font-size="9.4" text-anchor="middle">1402</text>
<text x="470.7" y="907.15" font-size="6.8" text-anchor="middle" class="s">Janvier</text>
<text x="470.7" y="736.4" font-size="9.4" text-anchor="middle">2076</text>
<text x="507.9" y="907.15" font-size="6.8" text-anchor="middle" class="s">Février</text>
<text x="507.9" y="803.6" font-size="9.4" text-anchor="middle">1144</text>
<text x="545.1" y="907.15" font-size="6.8" text-anchor="middle" class="s">Mars</text>
<text x="545.1" y="827.25" font-size="9.4" text-anchor="middle">816</text>
<text x="582.3" y="907.15" font-size="6.8" text-anchor="middle" class="s">Avril</text>
<text x="582.3" y="741.96" font-size="9.4" text-anchor="middle">1999</text>
<text x="619.5" y="907.15" font-size="6.8" text-anchor="middle" class="s">Mai</text>
<text x="619.5" y="776.13" font-size="9.4" text-anchor="middle">1525</text>
<text x="266.1" y="923.05" font-size="6.8" text-anchor="middle" class="s">2020</text>
<text x="545.1" y="923.05" font-size="6.8" text-anchor="middle" class="s">2021</text>
<text x="359" y="938.14" font-size="9" text-anchor="middle">Mois de décès</text>
</svg>
</body>
</html>
